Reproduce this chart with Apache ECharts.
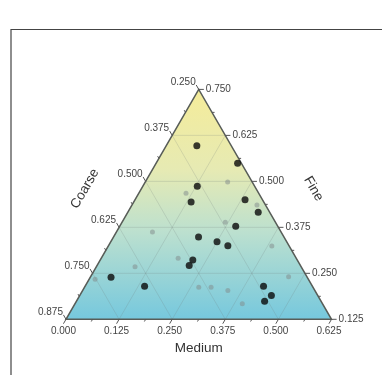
<!DOCTYPE html>
<html><head><meta charset="utf-8">
<script src="https://cdn.jsdelivr.net/npm/echarts@6/dist/echarts.min.js"></script>
<style>html,body{margin:0;padding:0;background:#fff}#c{width:382px;height:375px}</style>
</head><body><div id="c"></div>
<script>
// ---- data (ternary composition: Coarse + Medium + Fine = 1) ----
const blackCoarse = [0.331,0.259,0.385,0.421,0.291,0.277,0.349,0.451,0.414,0.394,0.496,0.512,0.712,0.645,0.365,0.359,0.383];
const blackMedium = [0.072,0.192,0.128,0.135,0.259,0.307,0.273,0.200,0.250,0.281,0.218,0.217,0.049,0.140,0.420,0.451,0.443];
const blackFine   = [0.597,0.549,0.487,0.444,0.450,0.416,0.378,0.349,0.336,0.325,0.286,0.271,0.239,0.215,0.215,0.190,0.174];

const grayCoarse = [0.308,0.421,0.270,0.368,0.553,0.291,0.528,0.641,0.752,0.293,0.519,0.490,0.455,0.439];
const grayMedium = [0.194,0.111,0.294,0.243,0.085,0.385,0.181,0.091,0.014,0.466,0.269,0.298,0.342,0.394];
const grayFine   = [0.498,0.468,0.436,0.389,0.362,0.324,0.291,0.268,0.234,0.241,0.212,0.212,0.203,0.167];

const coarseTicks = [0.250,0.375,0.500,0.625,0.750,0.875];
const mediumTicks = [0.000,0.125,0.250,0.375,0.500,0.625];
const fineTicks   = [0.750,0.625,0.500,0.375,0.250,0.125];
const coarseMinor = [0.3125,0.4375,0.5625,0.6875,0.8125];
const mediumMinor = [0.0625,0.1875,0.3125,0.4375,0.5625];
const fineMinor   = [0.6875,0.5625,0.4375,0.3125,0.1875];
const titles = {coarse:'Coarse', medium:'Medium', fine:'Fine'};

// ---- ternary range (zoomed region) ----
const C_MIN = 0.25, F_MIN = 0.125, SPAN = 0.625, S3 = Math.sqrt(3)/2;
function toXY(c, m, f){ return [m + (f - F_MIN)/2, (f - F_MIN)*S3]; }

const blackData = blackCoarse.map((c,i)=>toXY(c, blackMedium[i], blackFine[i]));
const grayData  = grayCoarse.map((c,i)=>toXY(c, grayMedium[i], grayFine[i]));

const chart = echarts.init(document.getElementById('c'), null, {renderer:'canvas'});

function renderFrame(params, api){
  const P = (c,m,f)=>api.coord(toXY(c,m,f));
  const ch = [];
  const top = P(C_MIN, 0, 1 - C_MIN);
  const bl = P(1 - F_MIN, 0, F_MIN);
  const br = P(C_MIN, 1 - C_MIN - F_MIN, F_MIN);
  ch.push({type:'polygon', shape:{points:[top,bl,br]},
    style:{fill:new echarts.graphic.LinearGradient(0,0,0,1,[
      {offset:0,color:'#f5ec9a'},{offset:0.35,color:'#e6eab3'},
      {offset:0.62,color:'#bce0cf'},{offset:1,color:'#76c8dd'}]), stroke:null}});
  const gs = {stroke:'rgba(110,120,120,0.25)', lineWidth:0.8};
  const line = (a,b,s)=>ch.push({type:'line', shape:{x1:a[0],y1:a[1],x2:b[0],y2:b[1]}, style:s});
  // grid lines
  fineTicks.slice(1,-1).forEach(v=>line(P(1-v,0,v), P(C_MIN,1-C_MIN-v,v), gs));
  mediumTicks.slice(1,-1).forEach(v=>line(P(1-F_MIN-v,v,F_MIN), P(C_MIN,v,1-C_MIN-v), gs));
  coarseTicks.slice(1,-1).forEach(v=>line(P(v,1-F_MIN-v,F_MIN), P(v,0,1-v), gs));
  // outline
  ch.push({type:'polygon', shape:{points:[top,bl,br]}, style:{fill:null, stroke:'#585d58', lineWidth:1.5}});
  const ts = {stroke:'#555', lineWidth:1};
  const d = 0.012, dm = 0.006;
  const lab = (txt, x, y, align, va)=>ch.push({type:'text', style:{text:txt, x:x, y:y, align:align, verticalAlign:va,
    fill:'#444', font:'10px "Liberation Sans", Arial, sans-serif'}});
  // medium (bottom) ticks
  mediumTicks.forEach(v=>{const a=P(1-F_MIN-v,v,F_MIN), b=P(1-F_MIN-v+d,v,F_MIN-d); line(a,b,ts);
    lab(v.toFixed(3), b[0], b[1]+3, 'center', 'top');});
  mediumMinor.forEach(v=>{const a=P(1-F_MIN-v,v,F_MIN), b=P(1-F_MIN-v+dm,v,F_MIN-dm); line(a,b,ts);});
  // coarse (left) ticks
  coarseTicks.forEach(v=>{const a=P(v,0,1-v), b=P(v,-d,1-v+d); line(a,b,ts);
    lab(v.toFixed(3), b[0]-0.5, b[1]-2.5, 'right', 'middle');});
  coarseMinor.forEach(v=>{const a=P(v,0,1-v), b=P(v,-dm,1-v+dm); line(a,b,ts);});
  // fine (right) ticks
  fineTicks.forEach(v=>{const a=P(C_MIN,1-C_MIN-v,v), b=P(C_MIN-d,1-C_MIN-v+d,v); line(a,b,ts);
    lab(v.toFixed(3), b[0]+2, b[1], 'left', 'middle');});
  fineMinor.forEach(v=>{const a=P(C_MIN,1-C_MIN-v,v), b=P(C_MIN-dm,1-C_MIN-v+dm,v); line(a,b,ts);});
  // axis titles
  const tf = '13.5px "Liberation Sans", Arial, sans-serif';
  const mb = P(1-F_MIN-SPAN/2, SPAN/2, F_MIN);
  ch.push({type:'text', style:{text:titles.medium, x:mb[0], y:mb[1]+29, align:'center', verticalAlign:'middle', fill:'#333', font:tf}});
  const lm = P(1-(F_MIN+SPAN*0.55), 0, F_MIN+SPAN*0.55);
  ch.push({type:'text', x:lm[0]-54, y:lm[1]-4, rotation:Math.PI/3,
    style:{text:titles.coarse, x:0, y:0, align:'center', verticalAlign:'middle', fill:'#333', font:tf}});
  const rm = P(C_MIN, 1-C_MIN-(F_MIN+SPAN*0.55), F_MIN+SPAN*0.55);
  ch.push({type:'text', x:rm[0]+55, y:rm[1]-4, rotation:-Math.PI/3,
    style:{text:titles.fine, x:0, y:0, align:'center', verticalAlign:'middle', fill:'#333', font:tf}});
  return {type:'group', children:ch};
}

chart.setOption({
  animation:false,
  backgroundColor:'#fff',
  graphic:[{type:'polyline', shape:{points:[[11,380],[11,29.5],[390,29.5]]}, style:{stroke:'#444', lineWidth:1.2, fill:null}, z:100}],
  grid:{left:66, top:89.4, width:265.5, height:229.9},
  xAxis:{type:'value', min:0, max:SPAN, show:false},
  yAxis:{type:'value', min:0, max:SPAN*S3, show:false},
  series:[
    {type:'custom', coordinateSystem:'cartesian2d', data:[[0,0]], renderItem:renderFrame, z:1, silent:true},
    {type:'scatter', data:grayData, symbolSize:5, itemStyle:{color:'rgba(130,140,140,0.65)'}, z:3},
    {type:'scatter', data:blackData, symbolSize:7, itemStyle:{color:'#0a0a0a'}, z:4}
  ]
});
</script></body></html>
